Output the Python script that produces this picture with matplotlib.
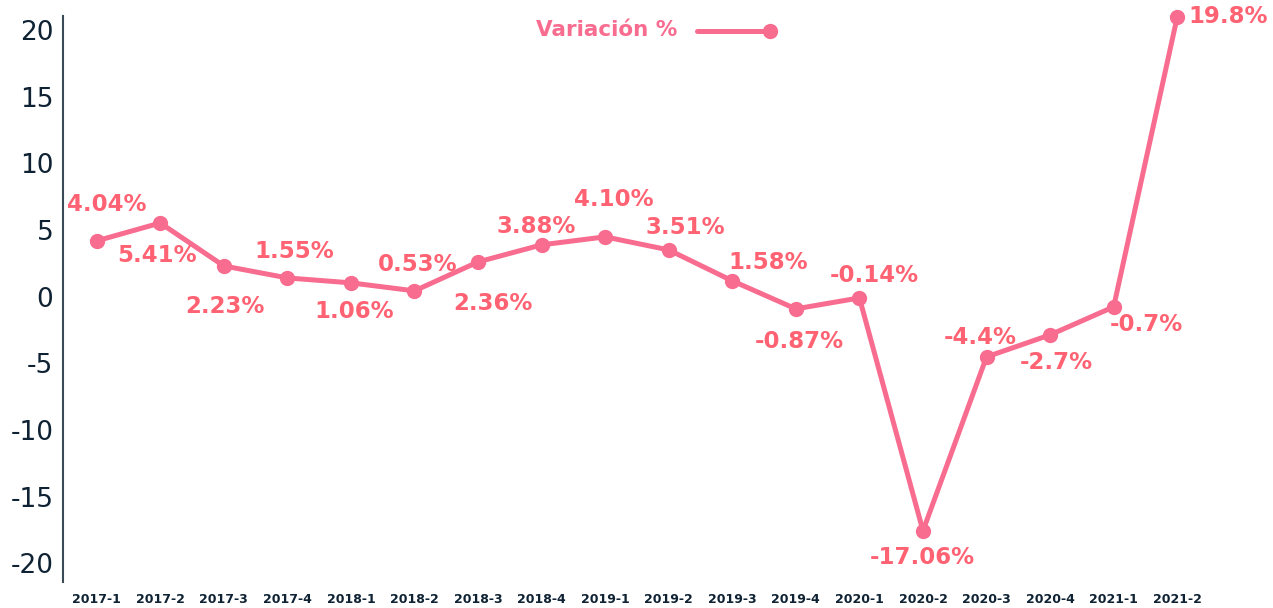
import matplotlib.pyplot as plt
from matplotlib.lines import Line2D

# Data
periods = ['2017-1', '2017-2', '2017-3', '2017-4', '2018-1', '2018-2', '2018-3',
           '2018-4', '2019-1', '2019-2', '2019-3', '2019-4', '2020-1', '2020-2',
           '2020-3', '2020-4', '2021-1', '2021-2']
variation = [4.18, 5.52, 2.30, 1.40, 1.03, 0.43, 2.60, 3.88, 4.48, 3.50, 1.18,
             -0.92, -0.10, -17.56, -4.52, -2.87, -0.77, 20.97]
point_labels = ['4.04%', '5.41%', '2.23%', '1.55%', '1.06%', '0.53%', '2.36%',
                '3.88%', '4.10%', '3.51%', '1.58%', '-0.87%', '-0.14%', '-17.06%',
                '-4.4%', '-2.7%', '-0.7%', '19.8%']
# label offsets from each point, in pixels (x right, y up)
label_offsets = [(10, 36), (-3, -33), (1, -41), (7, 26), (3, -29), (3, 26),
                 (15, -42), (-5, 18), (9, 37), (17, 22), (36, 18), (3, -33),
                 (15, 22), (-1, -27), (-6, 19), (6, -28), (33, -18), (51, 0)]
yticks = [20, 15, 10, 5, 0, -5, -10, -15, -20]

line_color = '#F76C8F'
label_color = '#FF6272'
dark = '#0F2233'

plt.rcParams['font.family'] = ['DejaVu Sans']

fig = plt.figure(figsize=(12.73, 6.08), dpi=100)
ax = fig.add_axes([63 / 1273, 1 - 582 / 608, (1209 - 63) / 1273, (582 - 16) / 608])

x = list(range(len(periods)))
ax.plot(x, variation, color=line_color, linewidth=3.6, marker='o',
        markersize=10, clip_on=False, zorder=3)

for xi, yi, txt, (dx, dy) in zip(x, variation, point_labels, label_offsets):
    ax.annotate(txt, (xi, yi), xytext=(dx, dy), textcoords='offset pixels',
                ha='center', va='center', fontsize=16.5, fontweight='bold',
                color=label_color)

ax.set_xlim(-0.53, len(periods) - 0.5)
ax.set_ylim(-21.4, 21.04)
ax.set_xticks(x)
ax.set_xticklabels(periods, fontsize=9, fontweight='bold', color=dark)
ax.set_yticks(yticks)
ax.set_yticklabels([str(v) for v in yticks], fontsize=19, color=dark)
ax.tick_params(axis='x', length=0, pad=8)
ax.tick_params(axis='y', length=0, pad=7)

for side in ['top', 'right', 'bottom']:
    ax.spines[side].set_visible(False)
ax.spines['left'].set_color('#3A4A56')
ax.spines['left'].set_linewidth(1.5)

# legend: text then line with marker at its end
fig.text(677 / 1273, 1 - 30 / 608, 'Variación %', ha='right', va='center',
         fontsize=15.5, fontweight='bold', color=line_color)
fig.add_artist(Line2D([697 / 1273, 770 / 1273], [1 - 31 / 608] * 2,
                      transform=fig.transFigure, color=line_color,
                      linewidth=3.6, solid_capstyle='round'))
fig.add_artist(Line2D([770 / 1273], [1 - 31 / 608], transform=fig.transFigure,
                      color=line_color, marker='o', markersize=10))

fig.savefig('out.png', dpi=100)
